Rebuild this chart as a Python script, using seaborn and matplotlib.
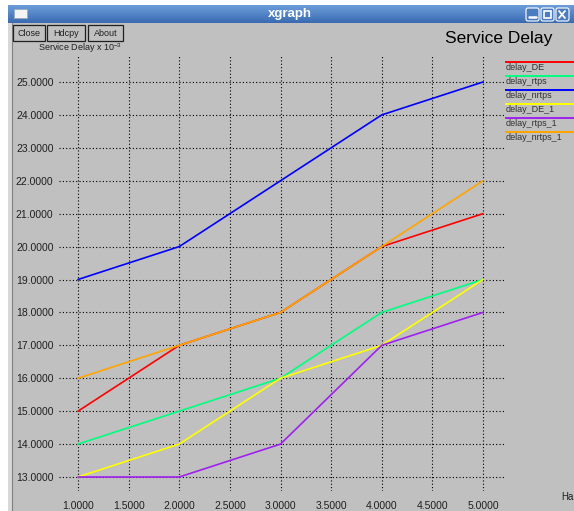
import numpy as np
import pandas as pd
import matplotlib
matplotlib.use("Agg")
import matplotlib.pyplot as plt
import seaborn as sns
from matplotlib.patches import Rectangle, FancyBboxPatch

# ---------------- data ----------------
x_vals = [1, 2, 3, 4, 5]
series_names = ["delay_DE", "delay_rtps", "delay_nrtps",
                "delay_DE_1", "delay_rtps_1", "delay_nrtps_1"]
delay_DE = [15, 17, 18, 20, 21]
delay_rtps = [14, 15, 16, 18, 19]
delay_nrtps = [19, 20, 22, 24, 25]
delay_DE_1 = [13, 14, 16, 17, 19]
delay_rtps_1 = [13, 13, 14, 17, 18]
delay_nrtps_1 = [16, 17, 18, 20, 22]
series_colors = ["#ff0000", "#00ff7f", "#0000ff", "#ffff00", "#a020f0", "#ffa500"]
x_ticks = [1.0, 1.5, 2.0, 2.5, 3.0, 3.5, 4.0, 4.5, 5.0]
y_ticks = [13, 14, 15, 16, 17, 18, 19, 20, 21, 22, 23, 24, 25]
x_tick_labels = ["%.4f" % v for v in x_ticks]
y_tick_labels = ["%.4f" % v for v in y_ticks]
chart_title = "Service Delay"
y_label = "Service Delay x 10$^{-3}$"
window_title = "xgraph"
buttons = ["Close", "Hdcpy", "About"]

all_values = [delay_DE, delay_rtps, delay_nrtps, delay_DE_1, delay_rtps_1, delay_nrtps_1]
df = pd.DataFrame({
    "x": np.tile(x_vals, len(series_names)),
    "y": np.concatenate(all_values),
    "series": np.repeat(series_names, len(x_vals)),
})

# ---------------- style ----------------
sns.set_theme(style="white")
plt.rcParams["font.family"] = ["Liberation Sans", "DejaVu Sans"]
plt.rcParams["mathtext.fontset"] = "custom"
plt.rcParams["mathtext.rm"] = "Liberation Sans"

W, H = 574, 511
BG = "#c0c0c0"
fig = plt.figure(figsize=(W / 100, H / 100), dpi=100)
fig.patch.set_facecolor(BG)

# overlay for window chrome (pixel coords)
ov = fig.add_axes([0, 0, 1, 1], zorder=0)
ov.set_xlim(0, W)
ov.set_ylim(H, 0)
ov.axis("off")
ov.set_facecolor("none")

# white outside window
ov.add_patch(Rectangle((0, 0), W, 5, facecolor="white", edgecolor="none"))
ov.add_patch(Rectangle((0, 0), 8, H, facecolor="white", edgecolor="none"))
# left border
ov.add_patch(Rectangle((8, 5), 4, H, facecolor="#d8d8d8", edgecolor="none"))
ov.plot([12, 12], [23, H], color="#808080", lw=0.8)

# title bar gradient
grad = np.linspace(0, 1, 50).reshape(-1, 1)
top = np.array([0x6c, 0x9d, 0xda]) / 255
bot = np.array([0x3a, 0x6b, 0xb2]) / 255
img = top[None, None, :] * (1 - grad[:, :, None]) + bot[None, None, :] * grad[:, :, None]
ov.imshow(img, extent=(8, W, 23, 5), aspect="auto", zorder=1)
ov.set_xlim(0, W)
ov.set_ylim(H, 0)
ov.text(290, 14, window_title, color="white", fontsize=9.5, fontweight="bold",
        ha="center", va="center", zorder=3)
# window icon
ov.add_patch(Rectangle((14, 9), 13, 9, facecolor="#f4f4f4", edgecolor="#9ab", lw=0.6, zorder=3))
# window buttons
for bx in [526, 541, 556]:
    ov.add_patch(FancyBboxPatch((bx, 8), 13, 13, boxstyle="round,pad=0,rounding_size=2",
                                facecolor="#4a7cc0", edgecolor="white", lw=0.8, zorder=3))
ov.plot([529, 536], [17.5, 17.5], color="white", lw=1.8, zorder=4)
ov.add_patch(Rectangle((544, 11), 7, 7, facecolor="none", edgecolor="white", lw=1.2, zorder=4))
ov.plot([559, 565], [11, 18], color="white", lw=1.3, zorder=4)
ov.plot([559, 565], [18, 11], color="white", lw=1.3, zorder=4)

# xgraph buttons
bpos = [(13, 45), (47, 85), (88, 123)]
for (x0, x1), lab in zip(bpos, buttons):
    ov.add_patch(Rectangle((x0, 25), x1 - x0, 16, facecolor=BG, edgecolor="#202020", lw=0.9, zorder=3))
    ov.text((x0 + x1) / 2, 33.5, lab, fontsize=6.5, color="#202020", ha="center", va="center", zorder=4)

# titles
ov.text(499, 39, chart_title, fontsize=12.5, color="black", ha="center", va="center", zorder=3)
ov.text(38, 48, y_label, fontsize=6.5, color="#202020", ha="left", va="center", zorder=3)
ov.text(561, 497, "Hal", fontsize=7, color="#202020", ha="left", va="center", zorder=3)

# legend
leg_y = [62, 76, 90, 104, 118, 132]
for name, col, ly in zip(series_names, series_colors, leg_y):
    ov.plot([505, W], [ly, ly], color=col, lw=1.4, zorder=3, solid_capstyle="butt")
    ov.text(506, ly + 5.5, name, fontsize=6.5, color="#303030", ha="left", va="center", zorder=3)

# ---------------- plot axes ----------------
ux = (483 - 78) / 4.0
uy = (477 - 82) / 12.0
xl0, xl1 = 1 - (78 - 59) / ux, 5 + (505 - 483) / ux
yl0, yl1 = 13 - (491 - 477) / uy, 25 + (82 - 56) / uy
left_px = 59
right_px = 505
bot_px = 491
top_px = 56
ax = fig.add_axes([left_px / W, (H - bot_px) / H, (right_px - left_px) / W, (bot_px - top_px) / H], zorder=2)
ax.set_facecolor("none")

sns.lineplot(data=df, x="x", y="y", hue="series", hue_order=series_names,
             palette=series_colors, estimator=None, sort=False, legend=False,
             linewidth=1.2, ax=ax, zorder=3)

ax.set_xlim(xl0, xl1)
ax.set_ylim(yl0, yl1)
ax.set_xticks(x_ticks)
ax.set_xticklabels(x_tick_labels)
ax.set_yticks(y_ticks)
ax.set_yticklabels(y_tick_labels)
ax.set_xlabel("")
ax.set_ylabel("")
for s in ax.spines.values():
    s.set_visible(False)
ax.tick_params(axis="both", length=0, labelsize=7.5, colors="#202020")
ax.tick_params(axis="y", pad=4)
ax.tick_params(axis="x", pad=7)
ax.grid(True, color="black", linestyle=(0, (1, 2)), linewidth=0.8, zorder=1)
ax.set_axisbelow(True)

fig.savefig("out.png", dpi=100, facecolor=fig.get_facecolor())
